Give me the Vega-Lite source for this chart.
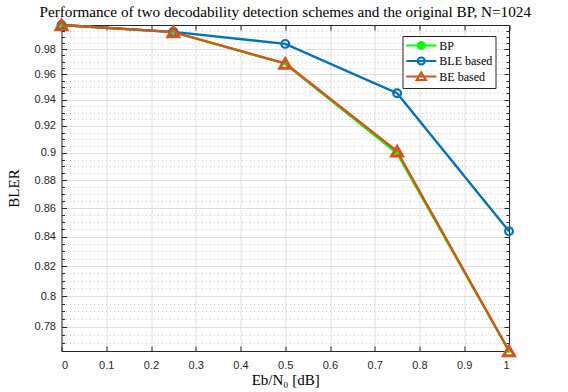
{
  "$schema": "https://vega.github.io/schema/vega-lite/v6.json",
  "autosize": {"type": "none"},
  "padding": {"left": 61.5, "top": 25, "right": 59, "bottom": 41},
  "width": 447.5,
  "height": 326,
  "background": "white",
  "title": {
    "text": "Performance of two decodability detection schemes and the original BP, N=1024",
    "font": "Liberation Serif",
    "fontSize": 15.2,
    "fontWeight": "normal",
    "color": "#000000",
    "anchor": "middle",
    "offset": -6
  },
  "data": {
    "values": [
      {"scheme": "BP", "ebn0": 0, "bler": 0.9996},
      {"scheme": "BP", "ebn0": 0.25, "bler": 0.9938},
      {"scheme": "BP", "ebn0": 0.5, "bler": 0.9683},
      {"scheme": "BP", "ebn0": 0.75, "bler": 0.8995},
      {"scheme": "BP", "ebn0": 1, "bler": 0.7647},
      {"scheme": "BLE based", "ebn0": 0, "bler": 0.9996},
      {"scheme": "BLE based", "ebn0": 0.25, "bler": 0.994},
      {"scheme": "BLE based", "ebn0": 0.5, "bler": 0.9842},
      {"scheme": "BLE based", "ebn0": 0.75, "bler": 0.9451},
      {"scheme": "BLE based", "ebn0": 1, "bler": 0.8437},
      {"scheme": "BE based", "ebn0": 0, "bler": 0.9996},
      {"scheme": "BE based", "ebn0": 0.25, "bler": 0.9938},
      {"scheme": "BE based", "ebn0": 0.5, "bler": 0.9685},
      {"scheme": "BE based", "ebn0": 0.75, "bler": 0.9011},
      {"scheme": "BE based", "ebn0": 1, "bler": 0.7647}
    ]
  },
  "config": {
    "view": {"stroke": null},
    "axis": {
      "domainColor": "#262626",
      "tickColor": "#262626",
      "labelColor": "#262626",
      "labelFont": "Liberation Sans",
      "labelFontSize": 11,
      "titleFont": "Liberation Serif",
      "titleFontSize": 15,
      "titleFontWeight": "normal",
      "titleColor": "#000000"
    }
  },
  "encoding": {
    "x": {
      "field": "ebn0",
      "type": "quantitative",
      "scale": {"domain": [0, 1], "nice": false, "zero": false}
    },
    "y": {
      "field": "bler",
      "type": "quantitative",
      "scale": {"type": "log", "domain": [0.7647, 0.9996], "nice": false, "zero": false}
    }
  },
  "layer": [
    {
      "mark": {"type": "line", "strokeWidth": 2.4},
      "encoding": {
        "x": {
          "field": "ebn0",
          "type": "quantitative",
          "axis": {
            "orient": "bottom",
            "values": [0, 0.1, 0.2, 0.3, 0.4, 0.5, 0.6, 0.7, 0.8, 0.9, 1],
            "format": "~g",
            "tickSize": -5,
            "labelPadding": 13,
            "grid": true,
            "gridColor": "#dedede",
            "title": "Eb/N₀ [dB]",
            "titlePadding": 2
          }
        },
        "y": {
          "field": "bler",
          "type": "quantitative",
          "axis": {
            "orient": "left",
            "values": [0.78, 0.8, 0.82, 0.84, 0.86, 0.88, 0.9, 0.92, 0.94, 0.96, 0.98],
            "format": "~g",
            "tickSize": -5,
            "labelPadding": 11,
            "grid": true,
            "gridColor": "#dedede",
            "title": "BLER",
            "titlePadding": 13
          }
        },
        "color": {
          "field": "scheme",
          "type": "nominal",
          "sort": ["BP", "BLE based", "BE based"],
          "scale": {
            "domain": ["BP", "BLE based", "BE based"],
            "range": ["#00FF00", "#0072BD", "#D95319"]
          },
          "legend": {
            "title": null,
            "orient": "none",
            "legendX": 341,
            "legendY": 11,
            "direction": "vertical",
            "fillColor": "white",
            "strokeColor": "#262626",
            "padding": 3,
            "labelFont": "Liberation Serif",
            "labelFontSize": 12,
            "labelColor": "#000000",
            "symbolSize": 100,
            "symbolStrokeWidth": 2.2,
            "symbolOffset": 9.3,
            "labelOffset": 11.5,
            "rowPadding": -1.5,
            "encode": {
              "symbols": {
                "update": {
                  "shape": {"signal": "datum.value === 'BE based' ? 'M-3,0H3M0,-0.8L0.9,0.7L-0.9,0.7Z' : 'M-3,0H3M0.7,0A0.7,0.7 0 1,1 -0.7,0A0.7,0.7 0 1,1 0.7,0Z'"},
                  "fill": {"signal": "datum.value === 'BP' ? '#00FF00' : 'transparent'"}
                }
              }
            }
          }
        }
      }
    },
    {
      "transform": [{"filter": "datum.scheme === 'BP'"}],
      "mark": {"type": "point", "shape": "circle", "filled": true, "size": 16, "color": "#00FF00", "opacity": 1},
      "encoding": {
        "x": {
          "field": "ebn0",
          "type": "quantitative",
          "axis": {"orient": "top", "values": [0, 0.1, 0.2, 0.3, 0.4, 0.5, 0.6, 0.7, 0.8, 0.9, 1], "labels": false, "tickSize": -5, "grid": false, "title": null}
        },
        "y": {
          "field": "bler",
          "type": "quantitative",
          "axis": {"orient": "right", "values": [0.78, 0.8, 0.82, 0.84, 0.86, 0.88, 0.9, 0.92, 0.94, 0.96, 0.98], "labels": false, "tickSize": -5, "grid": false, "title": null}
        }
      }
    },
    {
      "transform": [{"filter": "datum.scheme === 'BLE based'"}],
      "mark": {"type": "point", "shape": "circle", "filled": false, "size": 60, "strokeWidth": 2.2, "color": "#0072BD", "opacity": 1},
      "encoding": {
        "x": {"field": "ebn0", "type": "quantitative", "axis": null},
        "y": {
          "field": "bler",
          "type": "quantitative",
          "axis": {
            "orient": "left",
            "values": [0.77, 0.775, 0.785, 0.79, 0.795, 0.805, 0.81, 0.815, 0.825, 0.83, 0.835, 0.845, 0.85, 0.855, 0.865, 0.87, 0.875, 0.885, 0.89, 0.895, 0.905, 0.91, 0.915, 0.925, 0.93, 0.935, 0.945, 0.95, 0.955, 0.965, 0.97, 0.975, 0.985, 0.99, 0.995],
            "labels": false,
            "tickSize": -3,
            "grid": true,
            "gridColor": "#c9c9c9",
            "gridDash": [1, 3],
            "domain": false,
            "title": null
          }
        }
      }
    },
    {
      "transform": [{"filter": "datum.scheme === 'BE based'"}],
      "mark": {"type": "point", "shape": "triangle-up", "filled": false, "size": 120, "strokeWidth": 3, "color": "#D95319", "opacity": 1},
      "encoding": {
        "x": {"field": "ebn0", "type": "quantitative", "axis": null},
        "y": {
          "field": "bler",
          "type": "quantitative",
          "axis": {
            "orient": "right",
            "values": [0.77, 0.775, 0.785, 0.79, 0.795, 0.805, 0.81, 0.815, 0.825, 0.83, 0.835, 0.845, 0.85, 0.855, 0.865, 0.87, 0.875, 0.885, 0.89, 0.895, 0.905, 0.91, 0.915, 0.925, 0.93, 0.935, 0.945, 0.95, 0.955, 0.965, 0.97, 0.975, 0.985, 0.99, 0.995],
            "labels": false,
            "tickSize": -3,
            "grid": false,
            "domain": false,
            "title": null
          }
        }
      }
    }
  ],
  "resolve": {"axis": {"x": "independent", "y": "independent"}}
}
